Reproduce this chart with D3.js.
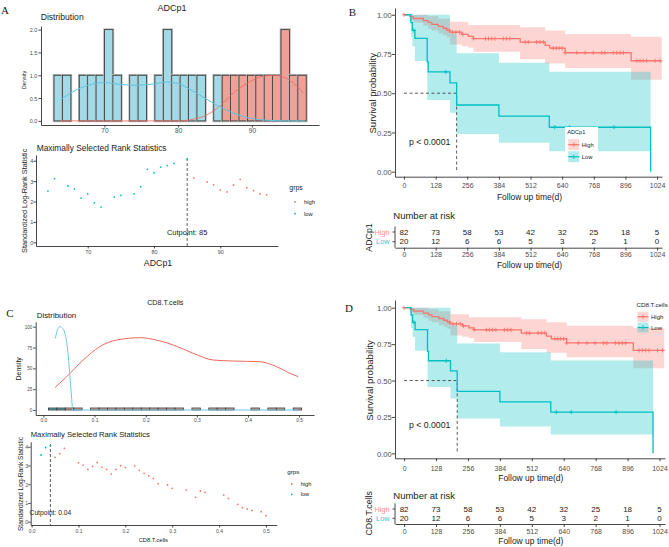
<!DOCTYPE html>
<html><head><meta charset="utf-8">
<script src="https://cdn.jsdelivr.net/npm/d3@7"></script>
<style>body{margin:0;background:#fff}svg{display:block}</style>
</head><body>
<svg width="669" height="547"></svg>
<script>
// ---------------- DATA ----------------
// Panel A: ADCp1 distribution (30 bins)
const adcBinStart = 63.17, adcBinWidth = 1.14;
const adcHistLow  = [1,1,0,1,1,1,2,1,0,1,1,0,1,2,1,1,1,1,0,1,0,0,0,0,0,0,0,0,0,0];
const adcHistHigh = [0,0,0,0,0,0,0,0,0,0,0,0,0,0,0,0,0,0,0,0,1,1,1,1,1,1,1,2,1,1];
const adcDensLowX  = [64.1,66.2,68.5,70,72.1,74.4,76.2,78.5,80,81.6,83.4,85.2,87.5,89.8,92,94.8,97.2];
const adcDensLowY  = [0.47,0.68,0.81,0.84,0.80,0.78,0.80,0.85,0.82,0.69,0.52,0.35,0.17,0.06,0.015,0,0];
const adcDensHighX = [64.1,70,75,80.3,82.1,83.9,85.7,87.5,89.3,91.1,92.9,94.3,95.7,97.0];
const adcDensHighY = [0,0,0,0,0.04,0.13,0.33,0.61,0.82,0.96,1.0,0.96,0.82,0.61];
// Panel A: maximally selected rank statistics
const adcCutLowX  = [64,65,67,68,69,70,71,72,74,75,77,78,79,80,81,82,83,85];
const adcStatLow  = [2.51,3.12,2.76,2.61,2.17,2.38,1.93,1.73,2.22,2.30,2.37,2.73,3.58,3.41,3.69,3.76,3.87,4.07];
const adcCutHighX = [86,88,89,90,91,92,93,94,95,96,97];
const adcStatHigh = [3.15,2.96,2.82,2.56,2.47,2.81,3.09,2.68,2.53,2.38,2.33];
const adcCutpoint = 85;
// Panel C: CD8.T.cells distribution
const cd8BinStart = 0.0098, cd8BinWidth = 0.0165;
const cd8HistLow  = [2.4,2.4,0,0,0,0,0,0,0,0,0,0,0,0,0,0,0,0,0,0,0,0,0,0,0,0,0,0,0,0];
const cd8HistHigh = [0,0,2.4,2.4,0,2.4,2.4,2.4,2.4,2.4,2.4,2.4,2.4,2.4,2.4,2.4,0,2.4,0,2.4,2.4,2.4,0,0,2.4,0,2.4,2.4,0,2.4];
const cd8DensLowX  = [0.0235,0.0268,0.030,0.0333,0.037,0.041,0.0443,0.0475,0.050,0.0527,0.0553,0.0573,0.1,0.2,0.3,0.4,0.5];
const cd8DensLowY  = [86,95,99.5,100,98.5,94,86,72,55,34,14,0,0,0,0,0,0];
const cd8DensHighX = [0.0228,0.0456,0.078,0.11,0.143,0.189,0.221,0.254,0.293,0.332,0.371,0.423,0.456,0.482,0.498];
const cd8DensHighY = [26.8,40,60,76,84,86.8,84,78,68,60,58.8,58,52,44,40];
// Panel C: rank statistics
const cd8CutLowX  = [0.02,0.03,0.04];
const cd8StatLow  = [3.56,3.96,4.05];
const cd8CutHighX = [0.05,0.06,0.07,0.10,0.11,0.12,0.13,0.14,0.15,0.16,0.17,0.18,0.19,0.20,0.22,0.23,0.24,0.25,0.26,0.27,0.29,0.30,0.33,0.35,0.36,0.37,0.41,0.42,0.44,0.45,0.46,0.47,0.49,0.50];
const cd8StatHigh = [3.43,3.63,3.91,3.15,3.02,2.79,2.95,3.16,2.90,2.79,2.54,2.79,2.99,2.90,2.97,2.74,2.58,2.45,2.31,2.03,1.96,1.78,1.69,1.30,1.64,1.56,1.42,1.24,0.92,0.75,0.68,0.60,0.53,0.32];
const cd8Cutpoint = 0.04;
// Kaplan-Meier (panels B and D)
const hiTimes = [0,24,38,78,98,112,139,159,173,186,234,260,281,470,571,590,652,919];
const hiSurv  = [1,.988,.976,.963,.951,.939,.926,.914,.901,.889,.875,.862,.848,.826,.805,.787,.758,.707];
const hiUpper = [1,1,1,1,.99,.99,.975,.975,.975,.955,.955,.935,.935,.92,.90,.90,.877,.86];
const hiLower = [1,.965,.95,.93,.91,.90,.88,.87,.855,.81,.80,.79,.764,.716,.69,.69,.66,.585];
const hiEnd = 1043;
const hiCensor = [0,182,196,210,225,238,281,330,342,355,368,402,415,429,490,503,537,550,564,604,616,628,640,652,699,733,766,800,813,847,861,875,888,942,955,968,982,1016,1036];
const loTimes = [0,28,34,44,94,98,186,213,384,588,998];
const loSurv  = [1,.95,.90,.85,.70,.636,.566,.425,.354,.283,0];
const loUpper = [1,1,1,1,1,1,.88,.754,.694,.637,.637];
const loLower = [1,.86,.80,.705,.456,.456,.376,.24,.185,.13,.13];
const loEnd = 998;
const loCensor = [40,169,610,670,850];
const medianTime = 213;
const riskTimes = [0,128,256,384,512,640,768,896,1024];
const riskHigh = [82,73,58,53,42,32,25,18,5];
const riskLow  = [20,12,6,6,5,3,2,1,0];
const groups = ["High","Low"];

// ---------------- HELPERS ----------------
const svg = d3.select("svg");
const SANS = "'Liberation Sans', Arial, Helvetica, sans-serif";
const SERIF = "'Liberation Serif', 'Times New Roman', serif";
const RED = "#F8766D", CYAN = "#00BFC4", AXC = "#333", TICKC = "#4d4d4d";

function txt(x, y, s, size, o = {}) {
  const t = svg.append("text").attr("x", x).attr("y", y).text(s)
    .attr("font-size", size).attr("font-family", o.family || SANS)
    .attr("fill", o.fill || "#1a1a1a").attr("text-anchor", o.anchor || "start")
    .attr("dominant-baseline", "central");
  if (o.rot) t.attr("transform", `rotate(${o.rot},${x},${y})`);
  return t;
}
function styleAxis(a, size) {
  a.select(".domain").attr("stroke", AXC).attr("stroke-width", 0.9);
  a.selectAll(".tick line").attr("stroke", AXC).attr("stroke-width", 0.9);
  a.selectAll(".tick text").attr("font-size", size).attr("font-family", SANS).attr("fill", TICKC);
}
function xAxis(scale, y, ticks, fmt, size, off, tl = 2.5) {
  const a = svg.append("g").attr("transform", `translate(0,${y})`)
    .call(d3.axisBottom(scale).tickValues(ticks).tickFormat(fmt).tickSize(tl).tickSizeOuter(0));
  styleAxis(a, size);
  a.selectAll(".tick text").attr("y", off).attr("dy", "0.35em");
  return a;
}
function yAxis(scale, x, ticks, fmt, size, off, tl = 2.5) {
  const a = svg.append("g").attr("transform", `translate(${x},0)`)
    .call(d3.axisLeft(scale).tickValues(ticks).tickFormat(fmt).tickSize(tl).tickSizeOuter(0));
  styleAxis(a, size);
  a.selectAll(".tick text").attr("x", -off).attr("dy", "0.35em");
  return a;
}

// ---------------- PANEL A (histogram) ----------------
(function () {
  const x = d3.scaleLinear([61.4, 99.1], [41, 319]);
  const y = d3.scaleLinear([-0.09, 2.08], [125, 26]);
  const bars = (arr, fill) => arr.forEach((c, i) => {
    if (!c) return;
    const x0 = x(adcBinStart + i * adcBinWidth), x1 = x(adcBinStart + (i + 1) * adcBinWidth);
    svg.append("rect").attr("x", x0).attr("y", y(c)).attr("width", x1 - x0).attr("height", y(0) - y(c))
      .attr("fill", "none").attr("stroke", "#b5b5b5").attr("stroke-width", 2.6);
    svg.append("rect").attr("x", x0).attr("y", y(c)).attr("width", x1 - x0).attr("height", y(0) - y(c))
      .attr("fill", fill).attr("stroke", "#333").attr("stroke-width", 0.8);
  });
  bars(adcHistLow, "#A2DAE7");
  bars(adcHistHigh, "#EFA097");
  const line = d3.line().x(d => x(d[0])).y(d => y(d[1])).curve(d3.curveMonotoneX);
  svg.append("path").attr("d", line(adcDensHighX.map((v, i) => [v, adcDensHighY[i]])))
    .attr("fill", "none").attr("stroke", "#EE6A5C").attr("stroke-width", 1).attr("stroke-opacity", 0.85);
  svg.append("path").attr("d", line(adcDensLowX.map((v, i) => [v, adcDensLowY[i]])))
    .attr("fill", "none").attr("stroke", "#5EC3E0").attr("stroke-width", 1);
  yAxis(y, 41, [0, 0.5, 1, 1.5, 2], d3.format(".1f"), 5.5, 3.7);
  xAxis(x, 125, [70, 80, 90], d3.format("d"), 6.5, 6);
  txt(172, 7.5, "ADCp1", 9, { anchor: "middle" });
  txt(40.7, 16.7, "Distribution", 8.6);
  txt(24.3, 80, "Density", 5.6, { anchor: "middle", rot: -90 });
  txt(5, 10, "A", 11, { family: SERIF, anchor: "middle" });
})();

// ---------------- PANEL A (rank statistics) ----------------
(function () {
  const x = d3.scaleLinear([62.2, 98.7], [36, 278]);
  const y = d3.scaleLinear([-0.18, 4.28], [246, 155]);
  svg.append("line").attr("x1", x(adcCutpoint)).attr("x2", x(adcCutpoint)).attr("y1", 158).attr("y2", 246)
    .attr("stroke", "#333").attr("stroke-width", 0.8).attr("stroke-dasharray", "3,2");
  adcCutLowX.forEach((v, i) => svg.append("circle").attr("cx", x(v)).attr("cy", y(adcStatLow[i])).attr("r", 0.9).attr("fill", CYAN));
  adcCutHighX.forEach((v, i) => svg.append("circle").attr("cx", x(v)).attr("cy", y(adcStatHigh[i])).attr("r", 0.9).attr("fill", RED));
  yAxis(y, 36, [0, 1, 2, 3, 4], d3.format("d"), 5.5, 2.7);
  xAxis(x, 246, [70, 80, 90], d3.format("d"), 5.5, 6.3);
  txt(x(adcCutpoint), 232.7, "Cutpoint: " + adcCutpoint, 7.5, { anchor: "middle" });
  txt(36.7, 148.3, "Maximally Selected Rank Statistics", 8.4);
  txt(158, 262.7, "ADCp1", 8.8, { anchor: "middle" });
  txt(25, 200.8, "Standardized Log-Rank Statistic", 7.3, { anchor: "middle", rot: -90 });
  txt(289.3, 187.3, "grps", 6.9);
  svg.append("circle").attr("cx", 295).attr("cy", 202).attr("r", 0.9).attr("fill", RED);
  svg.append("circle").attr("cx", 295).attr("cy", 213.7).attr("r", 0.9).attr("fill", CYAN);
  txt(304, 202, "high", 5.8);
  txt(304, 213.7, "low", 5.8);
})();

// ---------------- PANEL C (histogram) ----------------
(function () {
  const x = d3.scaleLinear([-0.015, 0.529], [35.7, 314]);
  const y = d3.scaleLinear([-6, 106], [415, 321.7]);
  const bars = (arr, fill) => arr.forEach((c, i) => {
    if (!c) return;
    const x0 = x(cd8BinStart + i * cd8BinWidth), x1 = x(cd8BinStart + (i + 1) * cd8BinWidth);
    svg.append("rect").attr("x", x0).attr("y", y(c)).attr("width", x1 - x0).attr("height", y(0) - y(c))
      .attr("fill", fill).attr("stroke", "#333").attr("stroke-width", 0.8);
  });
  bars(cd8HistLow, "#5FA9B8");
  bars(cd8HistHigh, "#E9A9A3");
  const line = d3.line().x(d => x(d[0])).y(d => y(d[1])).curve(d3.curveMonotoneX);
  svg.append("path").attr("d", line(cd8DensHighX.map((v, i) => [v, cd8DensHighY[i]])))
    .attr("fill", "none").attr("stroke", "#EE6A5C").attr("stroke-width", 1);
  svg.append("path").attr("d", line(cd8DensLowX.map((v, i) => [v, cd8DensLowY[i]])))
    .attr("fill", "none").attr("stroke", "#6CC8E2").attr("stroke-width", 1);
  yAxis(y, 35.7, [0, 25, 50, 75, 100], d3.format("d"), 4.6, 3.4);
  xAxis(x, 415, [0, 0.1, 0.2, 0.3, 0.4, 0.5], d3.format(".1f"), 5, 5);
  txt(165.3, 302.7, "CD8.T.cells", 7.2, { anchor: "middle" });
  txt(36.7, 315, "Distribution", 7.9);
  txt(19, 368.8, "Density", 7, { anchor: "middle", rot: -90 });
  txt(10, 312.7, "C", 11, { family: SERIF, anchor: "middle" });
})();

// ---------------- PANEL C (rank statistics) ----------------
(function () {
  const x = d3.scaleLinear([-0.002, 0.523], [30.7, 276.7]);
  const y = d3.scaleLinear([-0.176, 4.27], [525, 441.7]);
  svg.append("line").attr("x1", x(cd8Cutpoint)).attr("x2", x(cd8Cutpoint)).attr("y1", 444).attr("y2", 525)
    .attr("stroke", "#333").attr("stroke-width", 0.8).attr("stroke-dasharray", "3,2");
  cd8CutLowX.forEach((v, i) => svg.append("circle").attr("cx", x(v)).attr("cy", y(cd8StatLow[i])).attr("r", 0.9).attr("fill", CYAN));
  cd8CutHighX.forEach((v, i) => svg.append("circle").attr("cx", x(v)).attr("cy", y(cd8StatHigh[i])).attr("r", 0.9).attr("fill", RED));
  yAxis(y, 30.7, [0, 1, 2, 3, 4], d3.format("d"), 5.3, 2.4);
  xAxis(x, 525, [0, 0.1, 0.2, 0.3, 0.4, 0.5], d3.format(".1f"), 5, 6);
  txt(x(cd8Cutpoint), 512.3, "Cutpoint: " + cd8Cutpoint, 6.7, { anchor: "middle" });
  txt(30.7, 434.3, "Maximally Selected Rank Statistics", 7.7);
  txt(153.3, 540, "CD8.T.cells", 5.8, { anchor: "middle" });
  txt(20, 484, "Standardized Log-Rank Statistic", 6.6, { anchor: "middle", rot: -90 });
  txt(287.3, 471.7, "grps", 6.2);
  svg.append("circle").attr("cx", 291.7).attr("cy", 484).attr("r", 0.9).attr("fill", RED);
  svg.append("circle").attr("cx", 291.7).attr("cy", 494.3).attr("r", 0.9).attr("fill", CYAN);
  txt(300.7, 484, "high", 5.6);
  txt(300.7, 494.3, "low", 5.6);
})();

// ---------------- KM PANELS ----------------
function stepAt(times, vals, t) { let v = vals[0]; times.forEach((tt, i) => { if (tt <= t) v = vals[i]; }); return v; }
function cross(cx, cy, s) { return `M${cx - s},${cy}h${2 * s}M${cx},${cy - s}v${2 * s}`; }

function km(o) {
  const x = d3.scaleLinear([-36.4, o.xMax], [395, o.xRight]);
  const y = d3.scaleLinear(o.yDom, o.yRange);
  const pts = (times, a, b, end) => { const p = times.map((t, i) => [t, a[i], b ? b[i] : 0]); if (end > times[times.length - 1]) p.push([end, a[a.length - 1], b ? b[b.length - 1] : 0]); return p; };
  const area = d3.area().x(d => x(d[0])).y0(d => y(d[2])).y1(d => y(d[1])).curve(d3.curveStepAfter);
  svg.append("path").attr("d", area(pts(hiTimes, hiUpper, hiLower, hiEnd))).attr("fill", RED).attr("fill-opacity", 0.3);
  svg.append("path").attr("d", area(pts(loTimes, loUpper, loLower, loEnd))).attr("fill", CYAN).attr("fill-opacity", 0.3);
  // median
  svg.append("path").attr("d", `M${x(0)},${y(0.5)}H${x(medianTime)}V${y(0)}`)
    .attr("fill", "none").attr("stroke", "#333").attr("stroke-width", 0.8).attr("stroke-dasharray", "3,2.5");
  const line = d3.line().x(d => x(d[0])).y(d => y(d[1])).curve(d3.curveStepAfter);
  svg.append("path").attr("d", line(pts(hiTimes, hiSurv, null, hiEnd))).attr("fill", "none").attr("stroke", RED).attr("stroke-width", 1.3);
  svg.append("path").attr("d", line(pts(loTimes, loSurv, null, loEnd))).attr("fill", "none").attr("stroke", CYAN).attr("stroke-width", 1.3);
  svg.append("path").attr("d", hiCensor.map(t => cross(x(t), y(stepAt(hiTimes, hiSurv, t)), 2.1)).join(""))
    .attr("stroke", RED).attr("stroke-width", 0.9).attr("fill", "none");
  svg.append("path").attr("d", loCensor.map(t => cross(x(t), y(stepAt(loTimes, loSurv, t)), 2.1)).join(""))
    .attr("stroke", CYAN).attr("stroke-width", 0.9).attr("fill", "none");
  yAxis(y, 395, [0, 0.25, 0.5, 0.75, 1], d3.format(".2f"), 7.6, 3.3, 3);
  xAxis(x, o.yRange[0], riskTimes, d3.format("d"), 7, o.xLabOff, 3);
  txt(o.yTitleX, o.yTitleY, "Survival probability", 9.6, { anchor: "middle", rot: -90 });
  txt(x(512) - 1, o.xTitleY, "Follow up time(d)", 8.5, { anchor: "middle" });
  txt(409, o.pY, "p < 0.0001", 8.7);
  txt(o.letterX, o.letterY, o.letter, 11, { family: SERIF, anchor: "middle" });
  // legend
  const L = o.legend;
  if (L.box) svg.append("rect").attr("x", L.box[0]).attr("y", L.box[1]).attr("width", L.box[2]).attr("height", L.box[3]).attr("fill", "#fff");
  txt(L.x, L.titleY, L.title, L.titleSize);
  [RED, CYAN].forEach((c, i) => {
    const cy = L.rows[i];
    svg.append("rect").attr("x", L.x + 1).attr("y", cy - L.kh / 2).attr("width", L.kw).attr("height", L.kh).attr("fill", c).attr("fill-opacity", 0.3);
    svg.append("line").attr("x1", L.x + 1).attr("x2", L.x + 1 + L.kw).attr("y1", cy).attr("y2", cy).attr("stroke", c).attr("stroke-width", 1.2);
    svg.append("path").attr("d", cross(L.x + 1 + L.kw / 2, cy, 2.1)).attr("stroke", c).attr("stroke-width", 0.9);
    txt(L.x + L.kw + 3.5, cy, groups[i], L.size);
  });
  // risk table
  const R = o.risk;
  txt(393.3, R.titleY, "Number at risk", 9.5);
  [riskHigh, riskLow].forEach((arr, k) => {
    arr.forEach((v, i) => txt(x(riskTimes[i]), R.rows[k], v, 8, { anchor: "middle" }));
    svg.append("line").attr("x1", 392.5).attr("x2", 395).attr("y1", R.rows[k]).attr("y2", R.rows[k]).attr("stroke", AXC).attr("stroke-width", 0.9);
    txt(389.5, R.rows[k], groups[k], 7.3, { anchor: "end", fill: k ? "#38C6CA" : "#FA8F88" });
  });
  svg.append("line").attr("x1", 395).attr("x2", 395).attr("y1", R.top).attr("y2", R.axisY).attr("stroke", AXC).attr("stroke-width", 0.9);
  xAxis(x, R.axisY, riskTimes, d3.format("d"), 7, R.labOff, 3);
  txt(x(512) - 1, R.xTitleY, "Follow up time(d)", 8.5, { anchor: "middle" });
  txt(369, R.sideY, o.sideLabel, 8.8, { anchor: "middle", rot: -90 });
}

km({
  xMax: 1044, xRight: 662, yDom: [-0.032, 1.043], yRange: [176.7, 8], xLabOff: 9,
  yTitleX: 372.7, yTitleY: 93.3, xTitleY: 196.7, pY: 141.7, letter: "B", letterX: 352.5, letterY: 12.3,
  sideLabel: "ADCp1",
  legend: { box: [565, 127, 33, 37], x: 567.3, titleY: 131.7, title: "ADCp1", titleSize: 5.6, rows: [144.7, 156.7], kw: 11, kh: 11, size: 5.8 },
  risk: { titleY: 215.7, rows: [232, 241.7], top: 226.5, axisY: 247.7, labOff: 7.3, xTitleY: 265 , sideY: 237.5 }
});
km({
  xMax: 1046, xRight: 665, yDom: [-0.034, 1.053], yRange: [458.3, 300], xLabOff: 10,
  yTitleX: 369, yTitleY: 380.5, xTitleY: 478.3, pY: 425, letter: "D", letterX: 349, letterY: 308.3,
  sideLabel: "CD8.T.cells",
  legend: { box: null, x: 636.5, titleY: 304.3, title: "CD8.T.cells", titleSize: 6.2, rows: [316.7, 327.5], kw: 11, kh: 10, size: 6 },
  risk: { titleY: 495, rows: [509, 518.3], top: 503.3, axisY: 524, labOff: 7.7, xTitleY: 541, sideY: 513.3 }
});
</script>
</body></html>
